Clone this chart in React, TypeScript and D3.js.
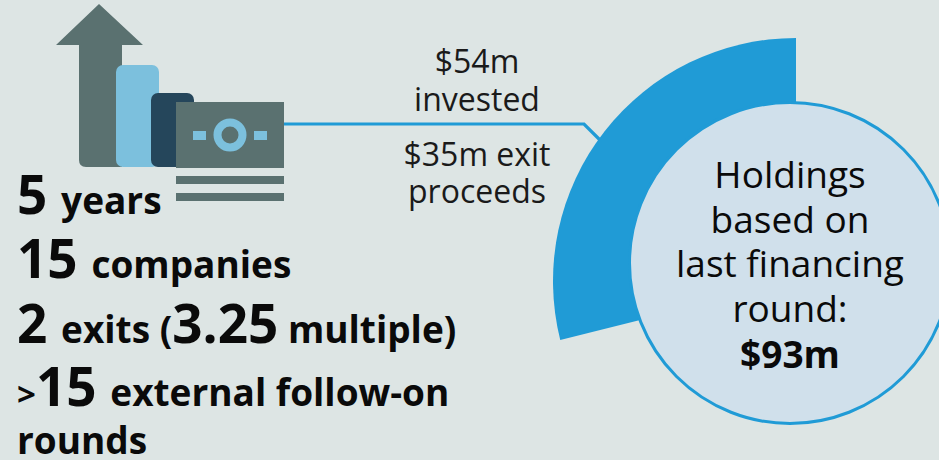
import React from 'react';
import * as d3 from 'd3';

const width = 939;
const height = 460;

// wedge share, as share of the full circle
const wedgeShare = [0.289];
const investedLabels = ['$54m', 'invested'];
const proceedsLabels = ['$35m exit', 'proceeds'];
const holdingsLabels = ['Holdings', 'based on', 'last financing', 'round:'];
const holdingsValue = '$93m';

const colors = {
  bg: '#dde5e4',
  blue: '#209bd6',
  inner: '#d0e0eb',
  slate: '#5a7170',
  light: '#7cc0dd',
  navy: '#25465b',
};
const font = "'Open Sans', sans-serif";
const big = 53;
const small = 37;

const angle = d3.scaleLinear().domain([0, 1]).range([0, -2 * Math.PI]);
const wedgePath = d3.arc()({
  innerRadius: 0,
  outerRadius: 243,
  startAngle: angle(0),
  endAngle: angle(wedgeShare[0]),
}) as string;

function Stat({ y, parts }: { y: number; parts: [string, number][] }) {
  return (
    <text x={17} y={y} fontFamily={font} fontWeight={700} fill="#0a0a0a" xmlSpace="preserve">
      {parts.map(([t, size], i) => (
        <tspan key={i} fontSize={size}>{t}</tspan>
      ))}
    </text>
  );
}

export default function App() {
  return (
    <svg width={width} height={height} style={{ position: 'fixed', left: 0, top: 0, background: colors.bg }}>
      {/* icon */}
      <path d="M99 4 L143 45 L122 45 L122 167 L86 167 Q79 167 79 160 L79 45 L56 45 Z" fill={colors.slate} />
      <rect x={116} y={65} width={43} height={102} rx={7} fill={colors.light} />
      <rect x={151} y={93} width={43} height={74} rx={7} fill={colors.navy} />
      <rect x={176} y={102} width={108} height={66} fill={colors.slate} />
      <circle cx={230} cy={135} r={12.5} fill="none" stroke={colors.light} strokeWidth={8} />
      <rect x={193} y={131} width={13} height={9} fill={colors.light} />
      <rect x={254} y={131} width={13} height={9} fill={colors.light} />
      <rect x={176} y={176} width={108} height={8} fill={colors.slate} />
      <rect x={176} y={193} width={108} height={8} fill={colors.slate} />

      {/* connector */}
      <path d="M284 124 L584 124 L600 140" fill="none" stroke={colors.blue} strokeWidth={3.2} />

      <g fontFamily={font} fontSize={32} fill="#1a1a1a" textAnchor="middle">
        {investedLabels.map((t, i) => (
          <text key={t} x={477} y={73 + i * 38}>{t}</text>
        ))}
        {proceedsLabels.map((t, i) => (
          <text key={t} x={477} y={166 + i * 37}>{t}</text>
        ))}
      </g>

      {/* wedge and holdings circle */}
      <path d={wedgePath} transform="translate(796,281)" fill={colors.blue} />
      <circle cx={790} cy={263} r={160.5} fill={colors.inner} stroke={colors.blue} strokeWidth={3} />
      <g fontFamily={font} fontSize={37} fill="#0a0a0a" textAnchor="middle">
        {holdingsLabels.map((t, i) => (
          <text key={t} x={790} y={188 + i * 44.7}>{t}</text>
        ))}
        <text x={790} y={368} fontWeight={700}>{holdingsValue}</text>
      </g>

      {/* stats */}
      <Stat y={214} parts={[['5 ', big], ['years', small]]} />
      <Stat y={278} parts={[['15 ', big], ['companies', small]]} />
      <Stat y={343} parts={[['2 ', big], ['exits (', small], ['3.25', big], [' multiple)', small]]} />
      <Stat y={406} parts={[['>', 33], ['15 ', big], ['external follow-on', small]]} />
      <Stat y={454} parts={[['rounds', small]]} />
    </svg>
  );
}
